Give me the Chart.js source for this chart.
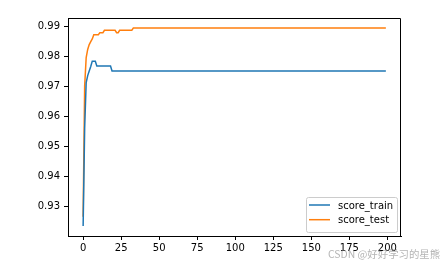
<!DOCTYPE html>
<html>
<head>
<meta charset="utf-8">
<script src="https://cdn.jsdelivr.net/npm/chart.js@4.4.1/dist/chart.umd.min.js"></script>
<style>
    html, body { margin: 0; padding: 0; background: #fff; }
    #wrap { position: relative; width: 448px; height: 266px; }
    #mark {
        position: absolute; left: 328px; top: 246px;
        font: 10.4px "Noto Sans CJK SC", "DejaVu Sans", sans-serif;
        color: rgba(140, 140, 140, 0.65); white-space: nowrap;
    }
</style>
</head>
<body>
<div id="wrap">
    <canvas id="scoreChart" width="448" height="266"></canvas>
    <div id="mark">CSDN @好好学习的星熊</div>
</div>
<script>
// Data
const epochs = Array.from({ length: 200 }, (_, i) => i);

const scoreTrain = [
    0.9234,0.9560,0.9712,0.9735,0.9750,0.9765,0.9783,0.9783,0.9783,0.9767,0.9767,0.9767,0.9767,0.9767,0.9767,0.9767,0.9767,0.9767,0.9767,0.9750,
    0.9750,0.9750,0.9750,0.9750,0.9750,0.9750,0.9750,0.9750,0.9750,0.9750,0.9750,0.9750,0.9750,0.9750,0.9750,0.9750,0.9750,0.9750,0.9750,0.9750,
    0.9750,0.9750,0.9750,0.9750,0.9750,0.9750,0.9750,0.9750,0.9750,0.9750,0.9750,0.9750,0.9750,0.9750,0.9750,0.9750,0.9750,0.9750,0.9750,0.9750,
    0.9750,0.9750,0.9750,0.9750,0.9750,0.9750,0.9750,0.9750,0.9750,0.9750,0.9750,0.9750,0.9750,0.9750,0.9750,0.9750,0.9750,0.9750,0.9750,0.9750,
    0.9750,0.9750,0.9750,0.9750,0.9750,0.9750,0.9750,0.9750,0.9750,0.9750,0.9750,0.9750,0.9750,0.9750,0.9750,0.9750,0.9750,0.9750,0.9750,0.9750,
    0.9750,0.9750,0.9750,0.9750,0.9750,0.9750,0.9750,0.9750,0.9750,0.9750,0.9750,0.9750,0.9750,0.9750,0.9750,0.9750,0.9750,0.9750,0.9750,0.9750,
    0.9750,0.9750,0.9750,0.9750,0.9750,0.9750,0.9750,0.9750,0.9750,0.9750,0.9750,0.9750,0.9750,0.9750,0.9750,0.9750,0.9750,0.9750,0.9750,0.9750,
    0.9750,0.9750,0.9750,0.9750,0.9750,0.9750,0.9750,0.9750,0.9750,0.9750,0.9750,0.9750,0.9750,0.9750,0.9750,0.9750,0.9750,0.9750,0.9750,0.9750,
    0.9750,0.9750,0.9750,0.9750,0.9750,0.9750,0.9750,0.9750,0.9750,0.9750,0.9750,0.9750,0.9750,0.9750,0.9750,0.9750,0.9750,0.9750,0.9750,0.9750,
    0.9750,0.9750,0.9750,0.9750,0.9750,0.9750,0.9750,0.9750,0.9750,0.9750,0.9750,0.9750,0.9750,0.9750,0.9750,0.9750,0.9750,0.9750,0.9750,0.9750
];

const scoreTest = [
    0.9265,0.9700,0.9795,0.9822,0.9838,0.9848,0.9857,0.9871,0.9871,0.9871,0.9871,0.9878,0.9878,0.9878,0.9886,0.9886,0.9886,0.9886,0.9886,0.9886,
    0.9886,0.9886,0.9878,0.9878,0.9886,0.9886,0.9886,0.9886,0.9886,0.9886,0.9886,0.9886,0.9886,0.9893,0.9893,0.9893,0.9893,0.9893,0.9893,0.9893,
    0.9893,0.9893,0.9893,0.9893,0.9893,0.9893,0.9893,0.9893,0.9893,0.9893,0.9893,0.9893,0.9893,0.9893,0.9893,0.9893,0.9893,0.9893,0.9893,0.9893,
    0.9893,0.9893,0.9893,0.9893,0.9893,0.9893,0.9893,0.9893,0.9893,0.9893,0.9893,0.9893,0.9893,0.9893,0.9893,0.9893,0.9893,0.9893,0.9893,0.9893,
    0.9893,0.9893,0.9893,0.9893,0.9893,0.9893,0.9893,0.9893,0.9893,0.9893,0.9893,0.9893,0.9893,0.9893,0.9893,0.9893,0.9893,0.9893,0.9893,0.9893,
    0.9893,0.9893,0.9893,0.9893,0.9893,0.9893,0.9893,0.9893,0.9893,0.9893,0.9893,0.9893,0.9893,0.9893,0.9893,0.9893,0.9893,0.9893,0.9893,0.9893,
    0.9893,0.9893,0.9893,0.9893,0.9893,0.9893,0.9893,0.9893,0.9893,0.9893,0.9893,0.9893,0.9893,0.9893,0.9893,0.9893,0.9893,0.9893,0.9893,0.9893,
    0.9893,0.9893,0.9893,0.9893,0.9893,0.9893,0.9893,0.9893,0.9893,0.9893,0.9893,0.9893,0.9893,0.9893,0.9893,0.9893,0.9893,0.9893,0.9893,0.9893,
    0.9893,0.9893,0.9893,0.9893,0.9893,0.9893,0.9893,0.9893,0.9893,0.9893,0.9893,0.9893,0.9893,0.9893,0.9893,0.9893,0.9893,0.9893,0.9893,0.9893,
    0.9893,0.9893,0.9893,0.9893,0.9893,0.9893,0.9893,0.9893,0.9893,0.9893,0.9893,0.9893,0.9893,0.9893,0.9893,0.9893,0.9893,0.9893,0.9893,0.9893
];

const xTicks = [0, 25, 50, 75, 100, 125, 150, 175, 200];
const yTicks = [0.93, 0.94, 0.95, 0.96, 0.97, 0.98, 0.99];

const tickFont = { family: 'DejaVu Sans', size: 10 };

// top/right spines like matplotlib
const framePlugin = {
    id: 'frame',
    afterDraw(chart) {
        const { ctx, chartArea: a } = chart;
        const l = Math.round(a.left) + 0.5, r = Math.round(a.right) - 0.5;
        const t = Math.round(a.top) + 0.5;
        ctx.save();
        ctx.strokeStyle = '#000';
        ctx.lineWidth = 1;
        ctx.beginPath();
        ctx.moveTo(l, t);
        ctx.lineTo(r, t);
        ctx.lineTo(r, Math.round(a.bottom));
        ctx.stroke();
        ctx.restore();
    }
};

// legend box in the lower right corner of the axes
const boxLegend = {
    id: 'boxLegend',
    afterDraw(chart) {
        const { ctx, chartArea: a } = chart;
        const w = 91, h = 35;
        const x = a.right - 4 - w, y = a.bottom - 4 - h;
        ctx.save();
        ctx.fillStyle = 'rgba(255,255,255,0.8)';
        ctx.strokeStyle = '#cccccc';
        ctx.lineWidth = 1;
        ctx.beginPath();
        ctx.roundRect(Math.round(x) + 0.5, Math.round(y) + 0.5, w, h, 2);
        ctx.fill();
        ctx.stroke();
        ctx.font = '10px "DejaVu Sans"';
        ctx.textBaseline = 'middle';
        chart.data.datasets.forEach((ds, i) => {
            const ly = y + 8 + i * 14.7;
            ctx.strokeStyle = ds.borderColor;
            ctx.lineWidth = 1.5;
            ctx.beginPath();
            ctx.moveTo(x + 3, ly);
            ctx.lineTo(x + 24, ly);
            ctx.stroke();
            ctx.fillStyle = '#000';
            ctx.fillText(ds.label, x + 32, ly + 1);
        });
        ctx.restore();
    }
};

new Chart(document.getElementById('scoreChart').getContext('2d'), {
    type: 'line',
    data: {
        labels: epochs,
        datasets: [
            {
                label: 'score_train',
                data: scoreTrain,
                borderColor: '#1f77b4',
                borderWidth: 1.5,
                pointRadius: 0,
                tension: 0
            },
            {
                label: 'score_test',
                data: scoreTest,
                borderColor: '#ff7f0e',
                borderWidth: 1.5,
                pointRadius: 0,
                tension: 0
            }
        ]
    },
    options: {
        responsive: false,
        devicePixelRatio: 1,
        animation: false,
        layout: { padding: { left: 0, top: 18, right: 47, bottom: 0 } },
        plugins: {
            legend: { display: false },
            tooltip: { enabled: false }
        },
        scales: {
            x: {
                type: 'linear',
                min: -9.95,
                max: 208.95,
                afterBuildTicks: s => { s.ticks = xTicks.map(v => ({ value: v })); },
                afterFit: s => { s.height = 30; },
                grid: { drawOnChartArea: false, drawTicks: true, tickLength: 4, color: '#000' },
                border: { color: '#000', width: 1 },
                ticks: { font: tickFont, color: '#000', padding: 2, maxRotation: 0, callback: v => String(v) }
            },
            y: {
                min: 0.9201,
                max: 0.99267,
                afterBuildTicks: s => { s.ticks = yTicks.map(v => ({ value: v })); },
                afterFit: s => { s.width = 68; },
                grid: { drawOnChartArea: false, drawTicks: true, tickLength: 4, color: '#000' },
                border: { color: '#000', width: 1 },
                ticks: { font: tickFont, color: '#000', padding: 4, callback: v => v.toFixed(2) }
            }
        }
    },
    plugins: [framePlugin, boxLegend]
});
</script>
</body>
</html>
